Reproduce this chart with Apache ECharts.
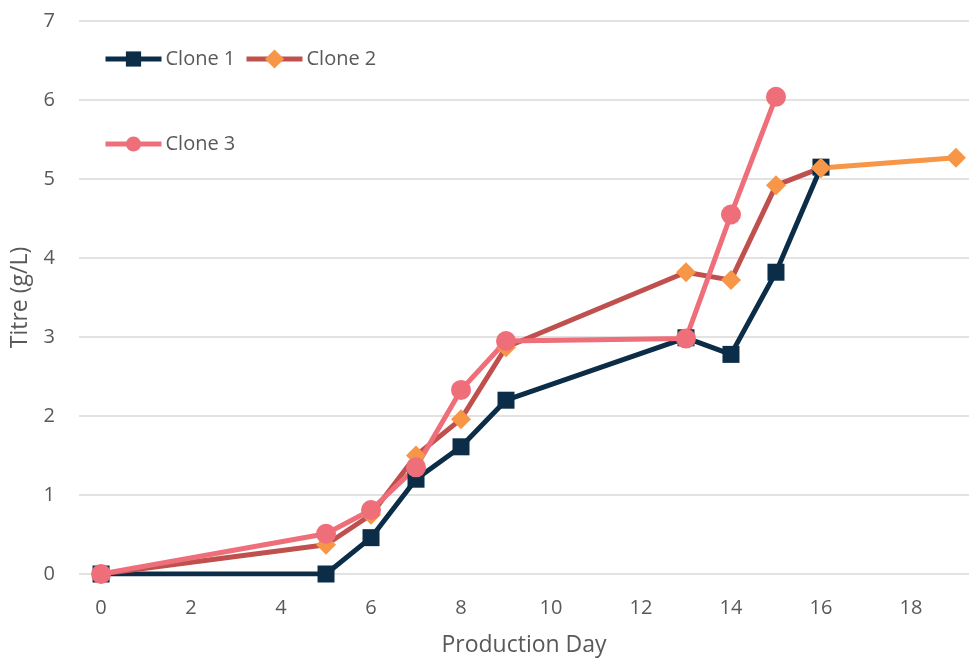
<!DOCTYPE html>
<html><head><meta charset="utf-8">
<script src="https://cdn.jsdelivr.net/npm/echarts@6/dist/echarts.min.js"></script>
<style>html,body{margin:0;padding:0;background:#fff}#c{width:969px;height:658px}</style>
</head><body><div id="c"></div>
<script>
const xTicks = [0, 2, 4, 6, 8, 10, 12, 14, 16, 18];
const yTicks = [0, 1, 2, 3, 4, 5, 6, 7];
const clone1Days = [0, 5, 6, 7, 8, 9, 13, 14, 15, 16];
const clone1Titre = [0, 0, 0.46, 1.2, 1.61, 2.2, 2.99, 2.78, 3.82, 5.15];
const clone2Days = [0, 5, 6, 7, 8, 9, 13, 14, 15, 16];
const clone2Titre = [0, 0.37, 0.75, 1.5, 1.96, 2.87, 3.82, 3.72, 4.92, 5.14];
const clone2ExtDays = [16, 19];
const clone2ExtTitre = [5.14, 5.27];
const clone3Days = [0, 5, 6, 7, 8, 9, 13, 14, 15];
const clone3Titre = [0, 0.51, 0.81, 1.35, 2.33, 2.95, 2.98, 4.55, 6.04];

const zip = (a, b) => a.map((v, i) => [v, b[i]]);
const FONT = 'Open Sans';
const TXT = '#595959';
const C1 = '#0B2D48', C2L = '#C0504D', C2M = '#F79646', C3 = '#EE6E7A';

const legendBase = {
  padding: 0, itemWidth: 56, itemHeight: 19, itemGap: 9,
  lineStyle: { width: 5 },
  textStyle: { fontFamily: FONT, fontSize: 20, color: TXT, padding: [0, 0, 0, -1] }
};

const chart = echarts.init(document.getElementById('c'));
chart.setOption({
  animation: false,
  textStyle: { fontFamily: FONT },
  grid: { left: 79, right: 0, top: 21, bottom: 84, outerBoundsMode: 'none', containLabel: false },
  legend: [
    Object.assign({}, legendBase, { left: 103, top: 49, data: ['Clone 1'] }),
    Object.assign({}, legendBase, { left: 244, top: 49, itemHeight: 24, data: ['Clone 2'] }),
    Object.assign({}, legendBase, { left: 103, top: 134, data: ['Clone 3'] })
  ],
  xAxis: {
    type: 'value', min: -0.49, max: 19.29,
    name: 'Production Day', nameLocation: 'middle', nameGap: 60,
    nameTextStyle: { fontFamily: FONT, fontSize: 23, color: TXT },
    axisLine: { show: false }, axisTick: { show: false }, splitLine: { show: false },
    axisLabel: { customValues: xTicks, fontSize: 20, color: TXT, margin: 24, fontFamily: FONT }
  },
  yAxis: {
    type: 'value', min: 0, max: 7, interval: 1,
    name: 'Titre (g/L)', nameLocation: 'middle', nameGap: 47,
    nameTextStyle: { fontFamily: FONT, fontSize: 23, color: TXT },
    axisLine: { show: false }, axisTick: { show: false },
    splitLine: { lineStyle: { color: '#D9D9D9', width: 1.5 } },
    axisLabel: { fontSize: 20, color: TXT, margin: 24, fontFamily: FONT,
      customValues: yTicks }
  },
  series: [
    { name: 'Clone 1', type: 'line', data: zip(clone1Days, clone1Titre),
      symbol: 'rect', symbolSize: 17,
      lineStyle: { color: C1, width: 5 }, itemStyle: { color: C1 } },
    { name: 'Clone 2', type: 'line', data: zip(clone2Days, clone2Titre),
      symbol: 'diamond', symbolSize: 20,
      lineStyle: { color: C2L, width: 5 }, itemStyle: { color: C2M } },
    { name: 'Clone 2 ext', type: 'line', data: zip(clone2ExtDays, clone2ExtTitre),
      symbol: 'diamond', symbolSize: 20,
      lineStyle: { color: C2M, width: 5 }, itemStyle: { color: C2M } },
    { name: 'Clone 3', type: 'line', data: zip(clone3Days, clone3Titre),
      symbol: 'circle', symbolSize: 20,
      lineStyle: { color: C3, width: 5 }, itemStyle: { color: C3 } }
  ]
});
</script></body></html>
